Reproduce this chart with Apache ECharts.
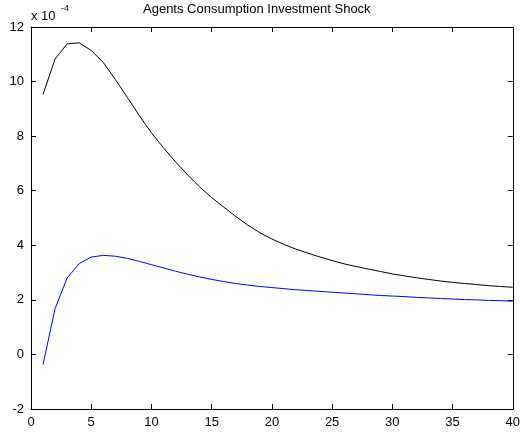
<!DOCTYPE html>
<html>
<head>
<meta charset="utf-8">
<script src="https://cdn.jsdelivr.net/npm/echarts@6/dist/echarts.min.js"></script>
<style>
  html, body { margin: 0; padding: 0; background: #fff; }
  #chart { width: 523px; height: 434px; }
</style>
</head>
<body>
<div id="chart"></div>
<script>
// Impulse responses, values in units of 1e-4
const periods = Array.from({ length: 40 }, (_, i) => i + 1);
const agentsResponse = [
  9.53, 10.83, 11.38, 11.42, 11.14, 10.70, 10.08, 9.42, 8.75, 8.12,
  7.57, 7.06, 6.58, 6.14, 5.75, 5.40, 5.06, 4.74, 4.46, 4.23,
  4.03, 3.86, 3.71, 3.57, 3.44, 3.32, 3.22, 3.13, 3.04, 2.95,
  2.88, 2.81, 2.75, 2.69, 2.64, 2.60, 2.56, 2.52, 2.49, 2.46
];
const secondResponse = [
  -0.37, 1.68, 2.80, 3.33, 3.57, 3.63, 3.60, 3.52, 3.41, 3.29,
  3.17, 3.05, 2.94, 2.84, 2.75, 2.67, 2.60, 2.54, 2.49, 2.45,
  2.41, 2.37, 2.34, 2.31, 2.28, 2.25, 2.22, 2.19, 2.16, 2.14,
  2.12, 2.09, 2.07, 2.05, 2.03, 2.01, 2.00, 1.98, 1.97, 1.95
];
const xTicks = { min: 0, max: 40, step: 5 };
const yTicks = { min: -2, max: 12, step: 2 };
const titleText = 'Agents Consumption Investment Shock';

const font = 'Liberation Sans, Arial, sans-serif';
const axisCommon = {
  type: 'value',
  axisLine: { show: true, onZero: false, lineStyle: { color: '#000', width: 1 } },
  axisTick: { show: true, inside: true, length: 5, lineStyle: { color: '#000' } },
  splitLine: { show: false }
};

const chart = echarts.init(document.getElementById('chart'), null, { renderer: 'canvas' });
chart.setOption({
  animation: false,
  backgroundColor: '#fff',
  grid: { left: 31, top: 27, width: 485, height: 382, containLabel: false },
  xAxis: [
    Object.assign({}, axisCommon, {
      position: 'bottom', min: xTicks.min, max: xTicks.max, interval: xTicks.step,
      axisLabel: { color: '#000', fontFamily: font, fontSize: 13, margin: 7 }
    }),
    Object.assign({}, axisCommon, {
      position: 'top', min: xTicks.min, max: xTicks.max, interval: xTicks.step,
      axisLabel: { show: false }
    })
  ],
  yAxis: [
    Object.assign({}, axisCommon, {
      position: 'left', min: yTicks.min, max: yTicks.max, interval: yTicks.step,
      axisLabel: { color: '#000', fontFamily: font, fontSize: 13, margin: 7 }
    }),
    Object.assign({}, axisCommon, {
      position: 'right', min: yTicks.min, max: yTicks.max, interval: yTicks.step,
      axisLabel: { show: false }
    })
  ],
  series: [
    {
      type: 'line', name: 'agents',
      data: periods.map((p, i) => [p, agentsResponse[i]]),
      showSymbol: false, lineStyle: { color: '#000', width: 1 }
    },
    {
      type: 'line', name: 'second',
      data: periods.map((p, i) => [p, secondResponse[i]]),
      showSymbol: false, lineStyle: { color: '#0000ff', width: 1 }
    }
  ],
  graphic: [
    {
      type: 'text', left: 143, top: 3,
      style: { text: titleText, font: '13px ' + font, fill: '#000' }
    },
    {
      type: 'text', left: 31, top: 10,
      style: { text: 'x 10', font: '13px ' + font, fill: '#000' }
    },
    {
      type: 'text', left: 61, top: 4,
      style: { text: '-4', font: '9px ' + font, fill: '#000' }
    }
  ]
});
</script>
</body>
</html>
